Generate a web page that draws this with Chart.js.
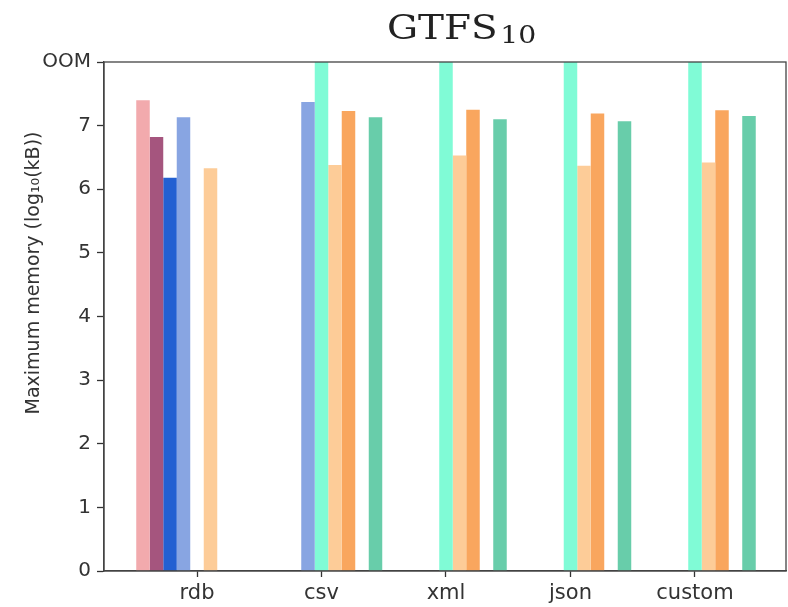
<!DOCTYPE html>
<html>
<head>
<meta charset="utf-8">
<script src="https://cdn.jsdelivr.net/npm/chart.js@4.4.1/dist/chart.umd.min.js"></script>
<style>
  html, body { margin: 0; padding: 0; background: #fff; }
  #wrap { width: 788px; height: 607px; }
</style>
</head>
<body>
<div id="wrap"><canvas id="memChart" width="788" height="607"></canvas></div>
<script>
// ---- data (log10 kB), OOM = out of memory, drawn at the top of the axis ----
const OOM = 8;
const formats = ['rdb', 'csv', 'xml', 'json', 'custom'];
const yTickLabels = ['0', '1', '2', '3', '4', '5', '6', '7', 'OOM'];

const seriesNames = ['s1', 's2', 's3', 's4', 's5', 's6', 's7', 's8', 's9'];
const s1 = [7.40, null, null, null, null];
const s2 = [6.82, null, null, null, null];
const s3 = [6.18, null, null, null, null];
const s4 = [7.13, 7.37, null, null, null];
const s5 = [null, OOM, OOM, OOM, OOM];
const s6 = [6.33, 6.38, 6.53, 6.37, 6.42];
const s7 = [null, 7.23, 7.25, 7.19, 7.24];
const s8 = [null, null, null, null, null];
const s9 = [null, 7.13, 7.10, 7.07, 7.15];
const seriesValues = [s1, s2, s3, s4, s5, s6, s7, s8, s9];
const seriesColors = ['#f2aaad', '#a5557e', '#2360d2', '#88a5e2', '#80fbd6',
                      '#fdcc98', '#f9a65e', '#999999', '#68cdaa'];

// cadre complet autour de la zone du graphique
const boxPlugin = {
    id: 'box',
    afterDraw(chart) {
        const a = chart.chartArea, ctx = chart.ctx;
        ctx.save();
        ctx.strokeStyle = '#444';
        ctx.lineWidth = 1.3;
        ctx.strokeRect(a.left, a.top, a.right - a.left, a.bottom - a.top);
        ctx.restore();
    }
};

// titre avec indice + titre de l'axe y (décalé vers le haut comme l'original)
const textPlugin = {
    id: 'texts',
    afterDraw(chart) {
        const ctx = chart.ctx;
        ctx.save();
        ctx.fillStyle = '#222';
        ctx.textBaseline = 'alphabetic';
        ctx.translate(387, 39);
        ctx.scale(1.18, 1);
        ctx.font = '33px "DejaVu Serif"';
        ctx.fillText('GTFS', 0, 0);
        const w = ctx.measureText('GTFS').width;
        ctx.font = '24px "DejaVu Serif"';
        ctx.fillText('10', w + 2, 4);
        ctx.restore();

        ctx.save();
        ctx.fillStyle = '#333';
        ctx.translate(34, 273);
        ctx.rotate(-Math.PI / 2);
        ctx.font = '19px "DejaVu Sans"';
        ctx.textAlign = 'center';
        ctx.textBaseline = 'middle';
        ctx.fillText('Maximum memory (log₁₀(kB))', 0, 0);
        ctx.restore();
    }
};

const ctx = document.getElementById('memChart').getContext('2d');
new Chart(ctx, {
    type: 'bar',
    data: {
        datasets: seriesValues.map((vals, i) => ({
            label: seriesNames[i],
            data: vals.map((v, j) => ({ x: j, y: v })),
            backgroundColor: seriesColors[i],
            borderWidth: 0,
            barPercentage: 1,
            categoryPercentage: 0.976
        }))
    },
    options: {
        responsive: false,
        animation: false,
        layout: { padding: { top: 62, right: 2, left: 0, bottom: 0 } },
        plugins: {
            legend: { display: false },
            title: { display: false },
            tooltip: { enabled: false }
        },
        scales: {
            x: {
                type: 'linear',
                offset: false,
                min: -0.747,
                max: 4.731,
                afterBuildTicks: function (scale) {
                    scale.ticks = formats.map((f, i) => ({ value: i }));
                },
                afterFit: function (scale) { scale.height = 36; },
                grid: { offset: false, drawOnChartArea: false, drawTicks: true, tickLength: 6, color: '#333', tickWidth: 1.3 },
                border: { display: true, color: '#444', width: 1.3 },
                ticks: {
                    color: '#333',
                    font: { family: 'DejaVu Sans', size: 21 },
                    padding: 4,
                    maxRotation: 0,
                    callback: function (value) { return formats[value]; }
                }
            },
            y: {
                min: 0,
                max: OOM,
                afterFit: function (scale) { scale.width = 104; },
                grid: { drawOnChartArea: false, drawTicks: true, tickLength: 7, color: '#333', tickWidth: 1.3 },
                border: { display: true, color: '#444', width: 1.3 },
                ticks: {
                    stepSize: 1,
                    color: '#333',
                    font: { family: 'DejaVu Sans', size: 20 },
                    padding: 6,
                    callback: function (value) { return yTickLabels[value]; }
                }
            }
        }
    },
    plugins: [boxPlugin, textPlugin]
});
</script>
</body>
</html>
